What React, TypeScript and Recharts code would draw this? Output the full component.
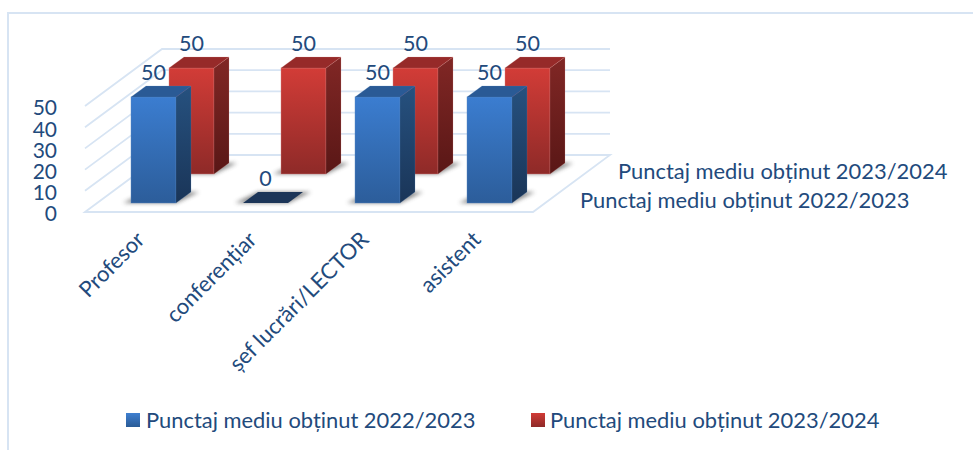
import { Bar, BarChart, CartesianGrid, LabelList, Legend, XAxis, YAxis } from 'recharts';

const categories = ['Profesor', 'conferențiar', 'șef lucrări/LECTOR', 'asistent'];
const values2022 = [50, 0, 50, 50];
const values2023 = [50, 50, 50, 50];
const yTicks = [0, 10, 20, 30, 40, 50];
const seriesNames = ['Punctaj mediu obținut 2022/2023', 'Punctaj mediu obținut 2023/2024'];

const data = categories.map((name, i) => ({
  name,
  a: values2022[i],
  b: values2023[i],
}));

const FONT = 'Lato, Carlito, sans-serif';
const TEXT = '#224a7c';
const GRID = '#d7e4f3';
const WALL_DX = 77;
const WALL_DY = -57;
const DEPTH_X = 15;
const DEPTH_Y = -11;

const FRONT_ROW = { dx: 12, dy: -9, front: 'blueFront', side: 'blueSide', top: '#2a5a95', flat: '#1c3558', edge: '#5b8ac4' };
const BACK_ROW = { dx: 50, dy: -38, front: 'redFront', side: 'redSide', top: '#962a29', flat: '#962a29', edge: '#d98a88' };

function wallLine(props: any) {
  const { x1, x2, y1, y, height, index } = props;
  const floor = y1 === y + height;
  const back = `M${x1},${y1}L${x1 + WALL_DX},${y1 + WALL_DY}L${x2 + WALL_DX},${y1 + WALL_DY}`;
  const d = floor ? `${back}L${x2},${y1}Z` : back;
  return <path key={`wall-${index}`} d={d} fill="none" stroke={GRID} strokeWidth={1.8} />;
}

function Box(props: any) {
  const { x, y, width, height, row } = props;
  const left = x + row.dx;
  const right = left + width;
  const top = y + row.dy;
  const base = top + height;
  const shadow = (
    <polygon
      points={`${left - 8},${base} ${right},${base} ${right + DEPTH_X + 8},${base + DEPTH_Y} ${left + DEPTH_X},${base + DEPTH_Y}`}
      fill="#444" opacity={0.65} filter="url(#soft)"
    />
  );
  if (height <= 0) {
    return (
      <g>
        {shadow}
        <polygon
          points={`${left},${base} ${right},${base} ${right + DEPTH_X},${base + DEPTH_Y} ${left + DEPTH_X},${base + DEPTH_Y}`}
          fill={row.flat}
        />
      </g>
    );
  }
  return (
    <g>
      {shadow}
      <rect x={left} y={top} width={width} height={height} fill={`url(#${row.front})`} stroke={row.edge} strokeOpacity={0.5} strokeWidth={0.8} />
      <polygon
        points={`${right},${top} ${right + DEPTH_X},${top + DEPTH_Y} ${right + DEPTH_X},${base + DEPTH_Y} ${right},${base}`}
        fill={`url(#${row.side})`} stroke={row.edge} strokeOpacity={0.35} strokeWidth={0.6}
      />
      <polygon
        points={`${left},${top} ${left + DEPTH_X},${top + DEPTH_Y} ${right + DEPTH_X},${top + DEPTH_Y} ${right},${top}`}
        fill={row.top} stroke={row.edge} strokeOpacity={0.35} strokeWidth={0.6}
      />
    </g>
  );
}

function valueLabel(row: any) {
  return (props: any) => {
    const { x, y, width, value } = props;
    return (
      <text x={x + width / 2 + row.dx} y={y + row.dy - 25} textAnchor="middle" dominantBaseline="central" fill={TEXT} fontFamily={FONT} fontSize={21.5}>
        {value}
      </text>
    );
  };
}

function LegendRow() {
  const items = [
    { name: seriesNames[0], iconX: 126, textX: 146, from: '#3f7fd0', to: '#2a5b96' },
    { name: seriesNames[1], iconX: 531, textX: 550, from: '#d13b36', to: '#8e2a28' },
  ];
  return (
    <div style={{ position: 'relative', width: 973, height: 30, fontFamily: FONT, fontSize: 21.9, color: TEXT }}>
      {items.map((it) => (
        <div key={it.name}>
          <div style={{ position: 'absolute', left: it.iconX, top: 8, width: 14, height: 14, background: `linear-gradient(${it.from}, ${it.to})` }} />
          <div style={{ position: 'absolute', left: it.textX, top: 2, lineHeight: '26px', whiteSpace: 'nowrap' }}>{it.name}</div>
        </div>
      ))}
    </div>
  );
}

export default function App() {
  return (
    <div style={{ position: 'absolute', left: 0, top: 0, width: 973, height: 450, background: '#fff', overflow: 'hidden' }}>
      <div style={{ position: 'absolute', left: 7, top: 12, width: 966, height: 438, borderLeft: `2px solid ${GRID}`, borderTop: `2px solid ${GRID}` }} />
      <BarChart
        width={973}
        height={450}
        data={data}
        margin={{ top: 106, right: 440, left: 0, bottom: 88 }}
        barSize={45}
        barGap={-45}
        style={{ position: 'absolute', left: 0, top: 0 }}
      >
        <defs>
          <linearGradient id="blueFront" x1="0" y1="0" x2="0" y2="1">
            <stop offset="0%" stopColor="#3b7dd0" />
            <stop offset="100%" stopColor="#2c5d9a" />
          </linearGradient>
          <linearGradient id="blueSide" x1="0" y1="0" x2="0" y2="1">
            <stop offset="0%" stopColor="#26517f" />
            <stop offset="100%" stopColor="#1a3558" />
          </linearGradient>
          <linearGradient id="redFront" x1="0" y1="0" x2="0" y2="1">
            <stop offset="0%" stopColor="#d23c37" />
            <stop offset="100%" stopColor="#8e2a28" />
          </linearGradient>
          <linearGradient id="redSide" x1="0" y1="0" x2="0" y2="1">
            <stop offset="0%" stopColor="#812725" />
            <stop offset="100%" stopColor="#591716" />
          </linearGradient>
          <filter id="soft" x="-30%" y="-100%" width="160%" height="300%">
            <feGaussianBlur stdDeviation="2" />
          </filter>
        </defs>
        <CartesianGrid vertical={false} horizontal={wallLine} />
        <XAxis
          dataKey="name"
          axisLine={false}
          tickLine={false}
          interval={0}
          height={120}
          angle={-45}
          textAnchor="end"
          tickMargin={12}
          dx={-6}
          tick={{ fill: TEXT, fontFamily: FONT, fontSize: 22 }}
        />
        <YAxis
          domain={[0, 50]}
          ticks={yTicks}
          interval={0}
          width={85}
          axisLine={false}
          tickLine={false}
          tickMargin={22}
          dy={2}
          tick={{ fill: TEXT, fontFamily: FONT, fontSize: 21 }}
        />
        <Bar dataKey="b" name={seriesNames[1]} fill="#c0392b" isAnimationActive={false} shape={(p: any) => <Box {...p} row={BACK_ROW} />}>
          <LabelList dataKey="b" content={valueLabel(BACK_ROW)} />
        </Bar>
        <Bar dataKey="a" name={seriesNames[0]} fill="#3b7dd0" isAnimationActive={false} shape={(p: any) => <Box {...p} row={FRONT_ROW} />}>
          <LabelList dataKey="a" content={valueLabel(FRONT_ROW)} />
        </Bar>
        <text x={618} y={170} dominantBaseline="central" fill={TEXT} fontFamily={FONT} fontSize={21.9}>{seriesNames[1]}</text>
        <text x={580} y={199} dominantBaseline="central" fill={TEXT} fontFamily={FONT} fontSize={21.9}>{seriesNames[0]}</text>
        <Legend
          verticalAlign="bottom"
          height={30}
          content={() => <LegendRow />}
          wrapperStyle={{ left: 0, top: 405, width: 973, height: 30 }}
        />
      </BarChart>
    </div>
  );
}
